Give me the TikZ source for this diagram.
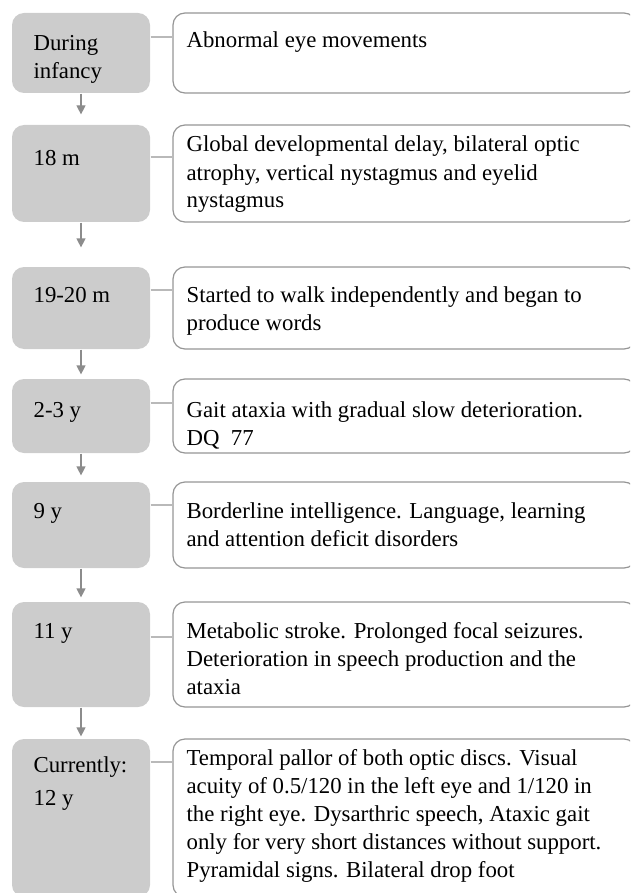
\documentclass[tikz,border=0pt]{standalone}
\usepackage{fontspec}
\setmainfont{Liberation Serif}
\usetikzlibrary{arrows.meta}
\definecolor{dategray}{RGB}{204,204,204}
\definecolor{framegray}{RGB}{150,150,150}
\definecolor{linkgray}{RGB}{185,185,185}
\definecolor{arrowgray}{RGB}{140,140,140}
\tikzset{
 datebox/.style={fill=dategray,rounded corners=12pt,inner sep=0pt,minimum width=138pt},
 eventbox/.style={draw=framegray,fill=white,rounded corners=12pt,inner sep=0pt,minimum width=463pt},
 datetext/.style={anchor=base west,inner sep=0pt,align=left},
 eventtext/.style={anchor=base west,inner sep=0pt,align=left},
 link/.style={draw=linkgray,line width=1.2pt},
 advance/.style={draw=arrowgray,line width=1.2pt,-{Triangle[length=9pt,width=9pt]}}
}
\begin{document}
\begin{tikzpicture}[x=1pt,y=-1pt,line width=1.2pt,font=\fontsize{22.8}{28}\selectfont]
\useasboundingbox (0,0) rectangle (630,893);
\clip (0,0) rectangle (630,893);
% boxes and links, row by row
\foreach \n/\ya/\yb/\yl in {1/13/93/37,2/125/222/157,3/267/349/290,4/379/453/403,5/482/568/505,6/602/707/637,7/739/897/762} {
 \node[datebox,minimum height={\yb-\ya}] (d\n) at (81,{(\ya+\yb)/2}) {};
 \node[eventbox,minimum height={\yb-\ya}] (e\n) at (404.5,{(\ya+\yb)/2}) {};
 \coordinate (l\n) at (0,\yl);
 \draw[link] (d\n.east |- l\n) -- (e\n.west |- l\n);
}
\foreach \a/\b/\gap in {1/2/10,2/3/19,3/4/4,4/5/6,5/6/4,6/7/2}
 \draw[advance,shorten >=\gap pt] (d\a.south) -- (d\b.north);
% dates (base = last line)
\node[datetext] (t1) at (33,79) {During\\infancy};
\node[datetext] (t2) at (33,166) {18 m};
\node[datetext] (t3) at (33,302) {19-20 m};
\node[datetext] (t4) at (33,417) {2-3 y};
\node[datetext] (t5) at (33,518) {9 y};
\node[datetext] (t6) at (33,638) {11 y};
\node[datetext] (t7) at (33,805) {Currently:\\[5pt]12 y};
% events (base = last line)
\node[eventtext] (x1) at (186,48) {Abnormal eye movements};
\node[eventtext] (x2) at (186,208) {Global developmental delay, bilateral optic\\atrophy, vertical nystagmus and eyelid\\nystagmus};
\node[eventtext] (x3) at (186,330) {Started to walk independently and began to\\produce words};
\node[eventtext] (x4) at (186,445) {Gait ataxia with gradual slow deterioration.\\DQ\ \ 77};
\node[eventtext] (x5) at (186,546) {Borderline intelligence. Language, learning\\and attention deficit disorders};
\node[eventtext] (x6) at (186,694) {Metabolic stroke. Prolonged focal seizures.\\Deterioration in speech production and the\\ataxia};
\node[eventtext] (x7) at (186,877) {Temporal pallor of both optic discs. Visual\\acuity of 0.5/120 in the left eye and 1/120 in\\the right eye. Dysarthric speech, Ataxic gait\\only for very short distances without support.\\Pyramidal signs. Bilateral drop foot};
\end{tikzpicture}
\end{document}
